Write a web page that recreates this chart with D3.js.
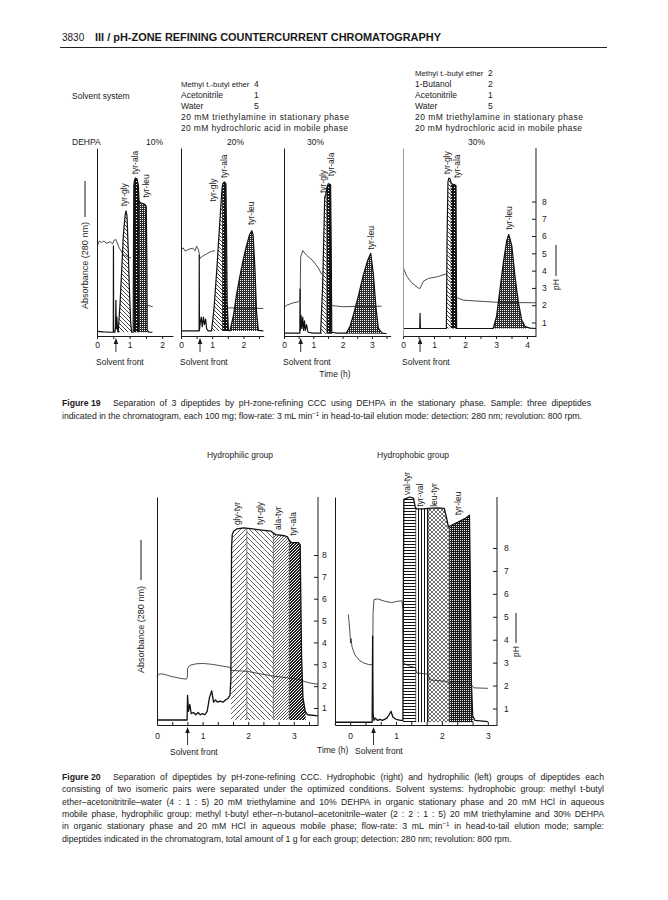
<!DOCTYPE html>
<html><head><meta charset="utf-8">
<script src="https://cdn.jsdelivr.net/npm/d3@7"></script>
<style>
body{margin:0;background:#fff}
svg text{font-family:"Liberation Sans",Arial,Helvetica,sans-serif;fill:#1a1a1a}
</style>
</head><body><svg id="c" width="668" height="900"></svg>
<script>
// ---------------- DATA ----------------
const pageNumber = "3830";
const pageTitle = "III / pH-ZONE REFINING COUNTERCURRENT CHROMATOGRAPHY";
const solventHeading = "Solvent system";
const solventLeftNames = ["Methyl t.-butyl ether","Acetonitrile","Water","20 mM triethylamine in stationary phase","20 mM hydrochloric acid in mobile phase"];
const solventLeftParts = ["4","1","5","",""];
const solventRightNames = ["Methyl t.-butyl ether","1-Butanol","Acetonitrile","Water","20 mM triethylamine in stationary phase","20 mM hydrochloric acid in mobile phase"];
const solventRightParts = ["2","2","1","5","",""];
const dehpaLabel = "DEHPA";
const dehpaPercents = ["10%","20%","30%","30%"];

// Figure 19 : time axis maxima (h), solvent front (h), ticks
const f19TimeMax = [2.33, 2.65, 3.64, 4.29];
const f19SolventFront = [0.58, 0.61, 0.57, 0.55];
const f19Ticks1 = [0,0.5,1,1.5,2];
const f19Ticks2 = [0,0.5,1,1.5,2,2.5];
const f19Ticks3 = [0,0.5,1,1.5,2,2.5,3,3.5];
const f19Ticks4 = [0,0.5,1,1.5,2,2.5,3,3.5,4];
const pHTicks = [1,2,3,4,5,6,7,8];

// absorbance traces [time h, relative absorbance]
const f19Abs1 = [[0,0.025],[0.2,0.022],[0.45,0.02],[0.5,0.02],[0.505,0.48],[0.51,0.02],[0.55,0.02],[0.57,0.05],[0.58,0.19],[0.59,0.04],[0.61,0.1],[0.63,0.03],[0.65,0.02],
 [0.71,0.18],[0.76,0.36],[0.81,0.54],[0.86,0.64],[0.89,0.665],[0.92,0.64],[0.96,0.45],[0.99,0.27],[1.03,0.08],[1.06,0.02],[1.11,0.02],
 [1.12,0.5],[1.13,0.8],[1.15,0.83],[1.18,0.84],[1.23,0.835],[1.27,0.8],[1.29,0.72],[1.32,0.71],[1.4,0.705],[1.47,0.7],[1.51,0.69],[1.53,0.4],[1.54,0.03],[1.6,0.02],[1.7,0.02]];
const f19Abs2 = [[0,0.027],[0.3,0.027],[0.58,0.027],[0.585,0.43],[0.59,0.03],[0.62,0.076],[0.65,0.1],[0.68,0.05],[0.72,0.1],[0.75,0.06],[0.79,0.09],[0.82,0.04],[0.87,0.027],[0.98,0.027],
 [1.06,0.15],[1.15,0.36],[1.23,0.57],[1.3,0.75],[1.32,0.79],[1.34,0.81],[1.39,0.82],[1.44,0.81],[1.46,0.54],[1.48,0.18],[1.52,0.03],[1.57,0.027],
 [1.68,0.11],[1.78,0.22],[1.89,0.32],[2.0,0.41],[2.1,0.48],[2.2,0.54],[2.27,0.56],[2.31,0.54],[2.37,0.36],[2.42,0.13],[2.48,0.03],[2.64,0.027]];
const f19Abs3 = [[0,0.015],[0.3,0.015],[0.54,0.015],[0.55,0.25],[0.56,0.03],[0.58,0.11],[0.61,0.04],[0.64,0.1],[0.67,0.03],[0.7,0.08],[0.73,0.03],[0.77,0.06],[0.82,0.02],[1.0,0.015],[1.25,0.015],
 [1.32,0.27],[1.36,0.54],[1.39,0.74],[1.42,0.75],[1.45,0.77],[1.46,0.79],[1.51,0.81],[1.59,0.805],[1.61,0.5],[1.63,0.02],[1.8,0.015],[2.12,0.015],
 [2.25,0.05],[2.4,0.13],[2.55,0.22],[2.7,0.32],[2.85,0.4],[2.96,0.44],[3.05,0.33],[3.14,0.15],[3.22,0.04],[3.35,0.015],[3.5,0.012]];
const f19Abs4 = [[0,0.04],[0.3,0.04],[0.54,0.04],[0.55,0.12],[0.56,0.04],[0.8,0.04],[1.4,0.04],
 [1.42,0.5],[1.45,0.82],[1.48,0.84],[1.52,0.835],[1.56,0.81],[1.65,0.805],[1.71,0.8],[1.72,0.4],[1.73,0.04],[2.0,0.04],[2.91,0.04],
 [3.02,0.106],[3.13,0.25],[3.24,0.395],[3.35,0.51],[3.41,0.54],[3.51,0.48],[3.61,0.32],[3.72,0.18],[3.83,0.085],[3.94,0.05],[4.1,0.042],[4.29,0.04]];

// pH traces [time h, pH]; null = hidden behind peaks
const f19PH1 = [[0.02,5.48],[0.07,5.71],[0.14,5.63],[0.21,5.71],[0.29,5.58],[0.4,5.67],[0.48,5.55],[0.52,5.75],[0.58,5.8],[0.68,5.32],[0.81,4.93],[0.95,4.78],[1.04,4.74],null,[1.54,2.0],[1.71,1.91]];
const f19PH2 = [[0.02,5.22],[0.07,5.32],[0.13,5.13],[0.2,5.2],[0.29,5.26],[0.38,5.3],[0.45,5.15],[0.5,5.41],[0.56,5.2],[0.59,4.9],[0.61,4.7],[0.66,4.8],[0.82,4.97],[0.98,5.12],[1.09,5.15],null,[1.46,1.85],[2.64,1.81]];
const f19PH3 = [[0,1.85],[0.09,2.0],[0.32,2.14],[0.49,2.2],[0.55,2.3],[0.57,4.8],[0.64,5.16],[0.77,4.89],[1.0,4.55],[1.17,4.16],[1.29,3.78],null,[1.63,1.98],[2.02,1.91],[2.59,1.94],[3.33,1.94]];
const f19PH4 = [[0.01,4.16],[0.12,3.68],[0.28,3.3],[0.49,3.0],[0.55,2.97],[0.66,3.39],[0.82,3.55],[1.09,3.64],[1.41,3.82],null,[1.75,2.43],[1.95,2.29],[3.02,2.17],[4.29,2.14]];

// peak zones [name, from h, to h]
const f19Zones1 = [["tyr-gly",0.64,1.07],["tyr-ala",1.11,1.29],["tyr-leu",1.29,1.55]];
const f19Zones2 = [["tyr-gly",0.97,1.32],["tyr-ala",1.32,1.53],["tyr-leu",1.56,2.5]];
const f19Zones3 = [["tyr-gly",1.25,1.45],["tyr-ala",1.45,1.64],["tyr-leu",2.1,3.4]];
const f19Zones4 = [["tyr-gly",1.4,1.54],["tyr-ala",1.54,1.74],["tyr-leu",2.9,4.0]];
// peak labels [name, time h, absorbance at label foot]
const f19Labels1 = [["tyr-gly",0.83,0.69],["tyr-ala",1.17,0.86],["tyr-leu",1.49,0.735]];
const f19Labels2 = [["tyr-gly",1.04,0.715],["tyr-ala",1.38,0.84],["tyr-leu",2.25,0.59]];
const f19Labels3 = [["tyr-gly",1.32,0.76],["tyr-ala",1.62,0.85],["tyr-leu",2.96,0.46]];
const f19Labels4 = [["tyr-gly",1.41,0.86],["tyr-ala",1.74,0.84],["tyr-leu",3.41,0.565]];

const f19Caption = ["Separation of 3 dipeptides by pH-zone-refining CCC using DEHPA in the stationary phase. Sample: three dipeptides",
 "indicated in the chromatogram, each 100 mg; flow-rate: 3 mL min|\u22121| in head-to-tail elution mode: detection: 280 nm; revolution: 800 rpm."];

// Figure 20
const f20Titles = ["Hydrophilic group","Hydrophobic group"];
const f20DomainL = [0, 3.53];
const f20DomainR = [-0.33, 3.2];
const f20TicksL = [0,0.333,0.667,1,1.333,1.667,2,2.333,2.667,3,3.333];
const f20TicksR = [-0.333,0,0.333,0.667,1,1.333,1.667,2,2.333,2.667,3];
const f20SolventFront = [0.67, 0.51];
const f20AbsL = [[0,0.022],[0.3,0.022],[0.66,0.022],[0.67,0.13],[0.69,0.06],[0.72,0.09],[0.75,0.05],[0.8,0.055],[0.85,0.045],[0.9,0.055],[0.95,0.045],[1.0,0.05],[1.05,0.045],[1.1,0.06],[1.15,0.12],[1.2,0.15],[1.24,0.1],[1.28,0.11],[1.33,0.1],[1.38,0.105],[1.45,0.1],[1.5,0.11],[1.55,0.115],[1.6,0.13],[1.62,0.2],[1.63,0.6],[1.635,0.78],[1.65,0.835],[1.68,0.85],[1.75,0.86],[1.9,0.865],[2.1,0.86],[2.3,0.855],[2.5,0.85],[2.6,0.835],[2.8,0.83],[2.86,0.825],[2.9,0.81],[2.95,0.8],[3.1,0.8],[3.14,0.79],[3.15,0.6],[3.17,0.3],[3.2,0.12],[3.25,0.06],[3.3,0.045],[3.53,0.04]];
const f20PHL = [[0,2.44],[0.05,2.56],[0.15,2.55],[0.3,2.45],[0.5,2.36],[0.64,2.32],[0.665,2.4],[0.67,2.8],[0.72,2.95],[0.85,3.02],[1.0,3.04],[1.2,3.0],[1.4,2.93],[1.6,2.86],[1.62,2.72],[1.97,2.68],[2.3,2.55],[2.55,2.46],[2.9,2.37],[3.13,2.3],[3.25,2.2],[3.38,2.13],[3.53,2.09]];
const f20ZonesL = [["gly-tyr",1.62,1.97],["tyr-gly",1.97,2.55],["ala-tyr",2.55,2.9],["tyr-ala",2.9,3.26]];
const f20LabelsL = [["gly-tyr",1.75,0.877],["tyr-gly",2.25,0.877],["ala-tyr",2.66,0.855],["tyr-ala",2.99,0.83]];
const f20AbsR = [[-0.33,0.012],[0.2,0.012],[0.48,0.012],[0.49,0.39],[0.5,0.05],[0.52,0.02],[0.55,0.03],[0.6,0.02],[0.65,0.025],[0.7,0.02],[0.75,0.025],[0.8,0.03],[0.85,0.045],[0.89,0.06],[0.93,0.035],[1.0,0.025],[1.1,0.02],[1.15,0.02],[1.16,0.6],[1.17,0.99],[1.3,1.0],[1.38,0.995],[1.42,0.955],[1.45,0.948],[1.6,0.948],[1.7,0.95],[1.9,0.952],[2.05,0.95],[2.1,0.91],[2.14,0.87],[2.2,0.875],[2.35,0.89],[2.5,0.905],[2.6,0.92],[2.62,0.6],[2.64,0.2],[2.67,0.04],[2.72,0.02],[3.0,0.015]];
const f20PHR = [[-0.04,5.1],[-0.02,4.7],[0.0,4.2],[0.01,3.85],[0.02,4.05],[0.04,3.7],[0.1,3.35],[0.2,3.1],[0.3,2.98],[0.4,2.92],[0.49,2.9],[0.5,5.2],[0.52,5.75],[0.6,5.78],[0.75,5.68],[0.9,5.62],[1.05,5.68],[1.13,5.7],[1.15,5.3],[1.16,3.0],[1.25,2.88],[1.42,2.78],[1.45,2.55],[1.7,2.5],[1.73,2.25],[2.1,2.18],[2.16,2.12],[2.6,2.1],[2.7,1.9],[3.0,1.88]];
const f20ZonesR = [["val-tyr",1.15,1.43],["tyr-val",1.43,1.7],["leu-tyr",1.7,2.16],["tyr-leu",2.16,2.68]];
const f20LabelsR = [["val-tyr",1.24,1.009],["tyr-val",1.52,0.957],["leu-tyr",1.83,0.957],["tyr-leu",2.34,0.92]];

const f20Caption = [
 "Separation of dipeptides by pH-zone-refining CCC. Hydrophobic (right) and hydrophilic (left) groups of dipeptides each",
 "consisting of two isomeric pairs were separated under the optimized conditions. Solvent systems: hydrophobic group: methyl t-butyl",
 "ether\u2013acetonitritrile\u2013water (4 : 1 : 5) 20 mM triethylamine and 10% DEHPA in organic stationary phase and 20 mM HCl in aqueous",
 "mobile phase, hydrophilic group: methyl t-butyl ether\u2013n-butanol\u2013acetonitrile\u2013water (2 : 2 : 1 : 5) 20 mM triethylamine and 30% DEHPA",
 "in organic stationary phase and 20 mM HCl in aqueous mobile phase; flow-rate: 3 mL min|\u22121| in head-to-tail elution mode; sample:",
 "dipeptides indicated in the chromatogram, total amount of 1 g for each group; detection: 280 nm; revolution: 800 rpm."];

// ---------------- DRAWING ----------------
const H = 900;
const svg = d3.select("#c");
const defs = svg.append("defs");
const INK = "#1a1a1a";

function mkPat(id, w, h, bg, fn){
  const p = defs.append("pattern").attr("id",id).attr("patternUnits","userSpaceOnUse").attr("width",w).attr("height",h);
  p.append("rect").attr("width",w).attr("height",h).attr("fill",bg);
  fn(p);
}
function px(p, pts, col){ pts.forEach(([x,y])=>p.append("rect").attr("x",x).attr("y",y).attr("width",1).attr("height",1).attr("fill",col)); }
mkPat("hb19",4,4,"#fff",p=>p.append("path").attr("d","M0,0L4,4M-1,3L1,5M3,-1L5,1").attr("stroke","#111").attr("stroke-width",0.8));
mkPat("dk19",3,3,"#151515",p=>px(p,[[1,1]],"#fff"));
mkPat("dt19",2,2,"#2a2a2a",p=>px(p,[[0,0]],"#fff"));
mkPat("hf20",5,5,"#fff",p=>p.append("path").attr("d","M0,5L5,0M-1,1L1,-1M4,6L6,4").attr("stroke","#222").attr("stroke-width",0.7));
mkPat("hb20",5,5,"#fff",p=>p.append("path").attr("d","M0,0L5,5M-1,4L1,6M4,-1L6,1").attr("stroke","#222").attr("stroke-width",0.7));
mkPat("lt20",3,3,"#fff",p=>px(p,[[0,0],[2,1],[1,2]],"#555"));
mkPat("dd20",3,3,"#1e1e1e",p=>px(p,[[0,0],[2,1],[1,2]],"#fff"));
mkPat("hl20",4,3,"#fff",p=>p.append("rect").attr("y",1).attr("width",4).attr("height",1).attr("fill","#111"));
mkPat("vl20",3,4,"#fff",p=>p.append("rect").attr("x",1).attr("width",1).attr("height",4).attr("fill","#111"));
mkPat("lx20",4,4,"#fff",p=>p.append("path").attr("d","M0,0L4,4M4,0L0,4").attr("stroke","#333").attr("stroke-width",0.7));
mkPat("dx20",2,2,"#1a1a1a",p=>px(p,[[0,0]],"#eee"));

const pat19 = {"tyr-gly":"hb19","tyr-ala":"dk19","tyr-leu":"dt19"};
const pat20 = {"gly-tyr":"hf20","tyr-gly":"hb20","ala-tyr":"lt20","tyr-ala":"dd20","val-tyr":"hl20","tyr-val":"vl20","leu-tyr":"lx20","tyr-leu":"dx20"};

function txt(x,y,s,size,opt={}){
  const t = svg.append("text").attr("x",x).attr("y",y).style("font-size",size+"px").text(s);
  if(opt.bold) t.style("font-weight","bold");
  if(opt.anchor) t.attr("text-anchor",opt.anchor);
  if(opt.len) t.attr("textLength",opt.len).attr("lengthAdjust",opt.adj||"spacingAndGlyphs");
  return t;
}
// caption line with optional superscript "a|sup|b", justified by word spacing
function capLine(x,y,s,size,target){
  const t = svg.append("text").attr("x",x).attr("y",y).style("font-size",size+"px");
  const parts = s.split("|");
  t.append("tspan").text(parts[0]);
  if(parts.length>1){
    t.append("tspan").attr("dy",-3).style("font-size",(size*0.7)+"px").text(parts[1]);
    t.append("tspan").attr("dy",3).text(parts[2]);
  }
  if(target){
    const nat = t.node().getComputedTextLength();
    const n = (parts.join("").match(/ /g)||[]).length;
    if(n>0) t.style("word-spacing",((target-nat)/n)+"px");
  }
  return t;
}
function vtxt(x,y,s,size){
  return svg.append("text").attr("transform",`translate(${x},${y}) rotate(-90)`).attr("dy","0.35em").style("font-size",size+"px").text(s);
}
function styleAxis(g,size){
  g.selectAll("text").style("font-size",size+"px").style("font-family",'"Liberation Sans",Arial,sans-serif').attr("fill",INK);
  g.selectAll("line,path").attr("stroke",INK);
}
let clipN = 0;
function drawPanel(c){
  const base = d3.min(c.trace, d=>d[1]);
  const area = d3.area().x(d=>c.x(d[0])).y0(c.yA(base)).y1(d=>c.yA(d[1]));
  c.zones.forEach(([name,from,to])=>{
    const id = "clip"+(clipN++);
    defs.append("clipPath").attr("id",id).append("rect").attr("x",c.x(from)).attr("y",0).attr("width",c.x(to)-c.x(from)).attr("height",H);
    svg.append("path").attr("d",area(c.trace)).attr("fill",`url(#${c.pat[name]})`).attr("clip-path",`url(#${id})`);
  });
  if(c.bounds){
    c.zones.slice(1).forEach(([n,from])=>{
      const i = d3.bisector(d=>d[0]).left(c.trace, from);
      const a = c.trace[i-1], b = c.trace[i];
      const v = a[1] + (b[1]-a[1])*(from-a[0])/(b[0]-a[0]);
      svg.append("line").attr("x1",c.x(from)).attr("x2",c.x(from)).attr("y1",c.yA(base)).attr("y2",c.yA(v)).attr("stroke","#333").attr("stroke-width",0.6);
    });
  }
  svg.append("path").attr("d",d3.line().defined(d=>d).x(d=>c.x(d[0])).y(d=>c.yP(d[1]))(c.ph))
     .attr("fill","none").attr("stroke","#222").attr("stroke-width",0.8);
  svg.append("path").attr("d",d3.line().x(d=>c.x(d[0])).y(d=>c.yA(d[1]))(c.trace))
     .attr("fill","none").attr("stroke","#111").attr("stroke-width",c.sw||1.2).attr("stroke-linejoin","round");
  c.labels.forEach(([name,t,a])=>vtxt(c.x(t), c.yA(a), name, c.lsize||8.5));
}
function arrow(x,yTop,yBot){
  svg.append("line").attr("x1",x).attr("x2",x).attr("y1",yTop+4).attr("y2",yBot).attr("stroke",INK).attr("stroke-width",0.9);
  svg.append("path").attr("d",`M${x},${yTop}L${x-2.3},${yTop+6}L${x+2.3},${yTop+6}Z`).attr("fill",INK);
}
const intFmt = d=>Number.isInteger(d)?d:"";
const pHFmt = d3.format("d");

// Header
txt(62,41,pageNumber,10);
txt(95,41,pageTitle,10,{bold:true,len:346});
svg.append("line").attr("x1",60).attr("x2",607).attr("y1",47.5).attr("y2",47.5).attr("stroke","#222").attr("stroke-width",1);

// Solvent system block
const solvLong = {"20 mM triethylamine in stationary phase":168,"20 mM hydrochloric acid in mobile phase":167};
function solvName(x,y,s){
  if(s.startsWith("Methyl")) return txt(x,y,s,7.8);
  return txt(x,y,s,8.5,{len:solvLong[s],adj:"spacing"});
}
txt(72,99,solventHeading,8.5);
solventLeftNames.forEach((s,i)=>{ solvName(181,87+i*11,s); if(solventLeftParts[i]) txt(254,87+i*11,solventLeftParts[i],8.5); });
solventRightNames.forEach((s,i)=>{ solvName(415,76+i*11,s); if(solventRightParts[i]) txt(488,76+i*11,solventRightParts[i],8.5); });
txt(72,145,dehpaLabel,8.5);
[146,227,307,468].forEach((x,i)=>txt(x,145,dehpaPercents[i],8.5));

// Figure 19 panels
const f19X0 = [97,181,284,403], f19PPH = [32.6,31.2,29.3,31.0];
const f19Traces=[f19Abs1,f19Abs2,f19Abs3,f19Abs4], f19PHs=[f19PH1,f19PH2,f19PH3,f19PH4];
const f19Zs=[f19Zones1,f19Zones2,f19Zones3,f19Zones4], f19Ls=[f19Labels1,f19Labels2,f19Labels3,f19Labels4];
const f19Ts=[f19Ticks1,f19Ticks2,f19Ticks3,f19Ticks4];
const yA19 = d3.scaleLinear([0,1],[336,148]);
const yP19 = d3.scaleLinear([1,8],[322.5,201.5]);
f19X0.forEach((x0,i)=>{
  const x = d3.scaleLinear([0,f19TimeMax[i]],[x0,x0+f19PPH[i]*f19TimeMax[i]]);
  drawPanel({x,yA:yA19,yP:yP19,trace:f19Traces[i],ph:f19PHs[i],zones:f19Zs[i],labels:f19Ls[i],pat:pat19});
  const gx = svg.append("g").attr("transform","translate(0,336)")
    .call(d3.axisBottom(x).tickValues(f19Ts[i]).tickFormat(intFmt).tickSize(3).tickSizeOuter(0).tickPadding(3));
  styleAxis(gx,8.5);
  const gy = svg.append("g").attr("transform",`translate(${x0},0)`).call(d3.axisLeft(yA19).tickValues([]).tickSizeOuter(0));
  styleAxis(gy,8.5);
  if(i===3) gy.selectAll("path").attr("stroke","#999");
  arrow(x(f19SolventFront[i]),338,352);
  txt(x0-1,365,"Solvent front",8.5);
  if(i===3){
    const gp = svg.append("g").attr("transform",`translate(${x.range()[1]},0)`)
      .call(d3.axisRight(yP19).tickValues(pHTicks).tickFormat(pHFmt).tickSize(-4).tickPadding(6));
    gp.select(".domain").remove();
    gp.append("line").attr("y1",yA19(0)).attr("y2",yA19(1)).attr("stroke",INK);
    styleAxis(gp,8.5);
  }
});
// fig19 axis titles
vtxt(85,309,"Absorbance (280 nm)",8.5).attr("textLength",87).attr("lengthAdjust","spacingAndGlyphs");
svg.append("line").attr("x1",85).attr("x2",85).attr("y1",217).attr("y2",181).attr("stroke",INK);
vtxt(556,290,"pH",8.5);
svg.append("line").attr("x1",556).attr("x2",556).attr("y1",276).attr("y2",245).attr("stroke",INK);
txt(335,377,"Time (h)",8.5,{anchor:"middle"});

// Figure 19 caption
const CAP = 8.7;
txt(62,406,"Figure 19",CAP,{bold:true});
capLine(113,406,f19Caption[0],CAP,478);
capLine(62,418.5,f19Caption[1],CAP,null);

// Figure 20
txt(240,458,f20Titles[0],8.5,{anchor:"middle"});
txt(413,458,f20Titles[1],8.5,{anchor:"middle"});
const yA20 = d3.scaleLinear([0,1],[725,497]);
const xL = d3.scaleLinear(f20DomainL,[157,318]);
const xR = d3.scaleLinear(f20DomainR,[335,497]);
const yPL = d3.scaleLinear([1,8],[708,555]);
const yPR = d3.scaleLinear([1,8],[708.5,548]);
drawPanel({x:xL,yA:yA20,yP:yPL,trace:f20AbsL,ph:f20PHL,zones:f20ZonesL,labels:f20LabelsL,pat:pat20,bounds:true,sw:1.3});
drawPanel({x:xR,yA:yA20,yP:yPR,trace:f20AbsR,ph:f20PHR,zones:f20ZonesR,labels:f20LabelsR,pat:pat20,bounds:true,sw:1.3});
[[xL,f20TicksL],[xR,f20TicksR]].forEach(([x,ticks])=>{
  const gx = svg.append("g").attr("transform","translate(0,725)")
    .call(d3.axisBottom(x).tickValues(ticks).tickFormat(d=>Math.abs(d-Math.round(d))<0.01?Math.round(d):"").tickSize(-3).tickSizeOuter(0).tickPadding(8));
  styleAxis(gx,8.5);
  const gy = svg.append("g").attr("transform",`translate(${x.range()[0]},0)`).call(d3.axisLeft(yA20).tickValues([]).tickSizeOuter(0));
  styleAxis(gy,8.5);
});
[[xL,yPL,4],[xR,yPR,7]].forEach(([x,yP,pad],i)=>{
  const gp = svg.append("g").attr("transform",`translate(${x.range()[1]},0)`)
    .call(d3.axisRight(yP).tickValues(pHTicks).tickFormat(pHFmt).tickSize(-4).tickPadding(pad));
  gp.select(".domain").remove();
  gp.append("line").attr("y1",yA20(0)).attr("y2",yA20(1)).attr("stroke",i===0?"#888":INK);
  styleAxis(gp,8.5);
});
arrow(xL(f20SolventFront[0]),727,745);
arrow(xR(f20SolventFront[1]),727,745);
txt(170,755,"Solvent front",8.5);
txt(355,754,"Solvent front",8.5);
txt(317,753,"Time (h)",8.5);
vtxt(141,673,"Absorbance (280 nm)",8.5).attr("textLength",87).attr("lengthAdjust","spacingAndGlyphs");
svg.append("line").attr("x1",141).attr("x2",141).attr("y1",580).attr("y2",540).attr("stroke",INK);
vtxt(516,657,"pH",8.5);
svg.append("line").attr("x1",516).attr("x2",516).attr("y1",643).attr("y2",613).attr("stroke",INK);

// Figure 20 caption
txt(62,780,"Figure 20",CAP,{bold:true});
capLine(113,780,f20Caption[0],CAP,491);
[1,2,3,4].forEach(i=>capLine(62,780+i*12.3,f20Caption[i],CAP,542));
capLine(62,780+5*12.3,f20Caption[5],CAP,null);
</script></body></html>
